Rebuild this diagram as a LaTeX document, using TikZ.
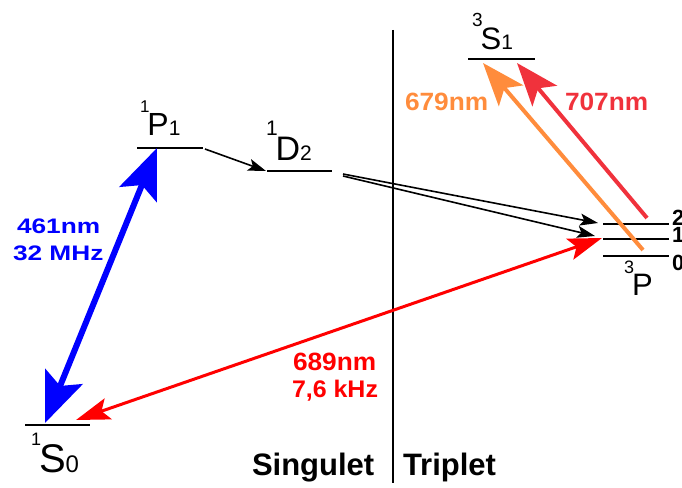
\documentclass[tikz,border=0pt]{standalone}
\usepackage{fontspec}
\setmainfont{Liberation Sans}
\usetikzlibrary{arrows.meta}
\definecolor{myorange}{RGB}{255,140,60}
\definecolor{myred}{RGB}{240,50,60}
\tikzset{
  bigtip/.tip={Stealth[length=50pt,width=40pt,inset=10pt]},
  redtip/.tip={Stealth[length=34pt,width=22pt,inset=7pt]},
  uptip/.tip={Stealth[length=43pt,width=32pt,inset=10pt]},
  blktip/.tip={Stealth[length=18pt,width=12pt,inset=4pt]}}
\begin{document}
\begin{tikzpicture}[x=1pt,y=-1pt,
  level/.style={line width=2pt},
  lbl/.style={anchor=base west,inner sep=0pt,outer sep=0pt}]
\useasboundingbox (0,0) rectangle (682,487);
% divider
\coordinate (divT) at (393,30);
\coordinate (divB) at (393,483);
\draw[line width=2.5pt] (divT) -- (divB);
% levels
\coordinate (S0l) at (25,425); \coordinate (S0r) at (90,425);
\coordinate (P1l) at (137,148); \coordinate (P1r) at (203,148);
\coordinate (D2l) at (267,171); \coordinate (D2r) at (332,171);
\coordinate (S1l) at (468,59); \coordinate (S1r) at (535,59);
\coordinate (P2l) at (603,224); \coordinate (P2r) at (669,224);
\coordinate (P1tl) at (603,239); \coordinate (P1tr) at (669,239);
\coordinate (P0l) at (603,256); \coordinate (P0r) at (669,256);
\foreach \a/\b in {S0l/S0r,P1l/P1r,D2l/D2r,S1l/S1r,P2l/P2r,P1tl/P1tr,P0l/P0r}
  \draw[level] (\a) -- (\b);
% state labels
\node[lbl] (tS0) at (31,472) {\raisebox{27pt}{\fontsize{18}{18}\selectfont 1}\kern-2pt\fontsize{40}{40}\selectfont S\fontsize{24}{24}\selectfont 0};
\node[lbl] (tP1) at (140,135) {\raisebox{23pt}{\fontsize{17}{17}\selectfont 1}\kern-2pt\fontsize{32}{32}\selectfont P\fontsize{21}{21}\selectfont 1};
\node[lbl] (tD2) at (266,160) {\raisebox{25pt}{\fontsize{21}{21}\selectfont 1}\kern-2pt\fontsize{34}{34}\selectfont D\fontsize{21}{21}\selectfont 2};
\node[lbl] (tS1) at (472,50) {\raisebox{23pt}{\fontsize{19}{19}\selectfont 3}\kern-2pt\fontsize{31}{31}\selectfont S\fontsize{21}{21}\selectfont 1};
\node[lbl] (tP3) at (624,295) {\raisebox{22pt}{\fontsize{18}{18}\selectfont 3}\kern-2pt\fontsize{31}{31}\selectfont P};
\node[lbl,font=\fontsize{22}{22}\selectfont\bfseries] (j2) at (672,225) {2};
\node[lbl,font=\fontsize{22}{22}\selectfont\bfseries] (j1) at (672,242) {1};
\node[lbl,font=\fontsize{22}{22}\selectfont\bfseries] (j0) at (672,270) {0};
% transition endpoints
\coordinate (bS) at (45,423); \coordinate (bP) at (157,148);
\coordinate (rS) at (76,420); \coordinate (rP) at (602,238);
\coordinate (oB) at (643,250); \coordinate (oT) at (483,63);
\coordinate (qB) at (647,218); \coordinate (qT) at (517,63);
\coordinate (kA) at (205,149); \coordinate (kB) at (266,171);
\coordinate (dA) at (343,174); \coordinate (dB) at (598,223);
\coordinate (eA) at (343,176); \coordinate (eB) at (595,236);
% arrows
\draw[red, line width=3pt, {redtip}-{redtip}] (rS) -- (rP);
\draw[blue, line width=6pt, {bigtip}-{bigtip}] (bS) -- (bP);
\draw[myorange, line width=4pt, -{uptip}] (oB) -- (oT);
\draw[myred, line width=4pt, -{uptip}] (qB) -- (qT);
\draw[line width=1.6pt, -{blktip}] (kA) -- (kB);
\draw[line width=1.6pt, -{blktip}] (dA) -- (dB);
\draw[line width=1.6pt, -{blktip}] (eA) -- (eB);
% wavelength labels
\node[lbl,blue,font=\fontsize{21}{21}\selectfont\bfseries] (l461) at (17,233) {\scalebox{1.25}[1]{461nm}};
\node[lbl,blue,font=\fontsize{21}{21}\selectfont\bfseries] (l32) at (13,260) {\scalebox{1.25}[1]{32 MHz}};
\node[lbl,red,font=\fontsize{25}{25}\selectfont\bfseries] (l689) at (293,370) {\scalebox{1.05}[1]{689nm}};
\node[lbl,red,font=\fontsize{24}{24}\selectfont\bfseries] (l76) at (292,397) {\scalebox{1.04}[1]{7,6 kHz}};
\node[lbl,myorange,font=\fontsize{25}{25}\selectfont\bfseries] (l679) at (405,110) {\scalebox{1.05}[1]{679nm}};
\node[lbl,myred,font=\fontsize{25}{25}\selectfont\bfseries] (l707) at (565,110) {\scalebox{1.05}[1]{707nm}};
\node[lbl,font=\fontsize{31}{31}\selectfont\bfseries] (sing) at (252,475) {Singulet};
\node[lbl,font=\fontsize{31}{31}\selectfont\bfseries] (trip) at (403,475) {Triplet};
\end{tikzpicture}
\end{document}
